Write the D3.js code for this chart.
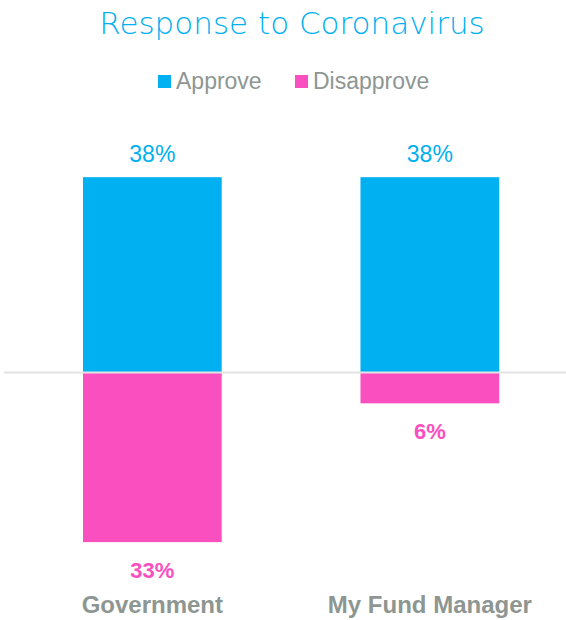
<!DOCTYPE html>
<html>
<head>
<meta charset="utf-8">
<script src="https://cdn.jsdelivr.net/npm/d3@7"></script>
<style>
  body { margin: 0; background: #fff; }
  svg { display: block; }
</style>
</head>
<body>
<div id="chart"></div>
<script>
// Data
const categories = ["Government", "My Fund Manager"];
const approve = [38, 38];
const disapprove = [33, 6];
const seriesNames = ["Approve", "Disapprove"];

const blue = "#00b0f0";
const pink = "#f94fbf";
const gray = "#8e9692";

const svgWidth = 566;
const svgHeight = 620;

const svg = d3.select("#chart")
  .append("svg")
  .attr("width", svgWidth)
  .attr("height", svgHeight);

// scales
const x = d3.scaleBand()
  .domain(categories)
  .range([13.6, 568.6])
  .paddingInner(0.5)
  .paddingOuter(0.25);

const zeroY = 372.5;
const y = d3.scaleLinear()
  .domain([-40, 40])
  .range([zeroY + 40 * 5.14, zeroY - 40 * 5.14]);

// title
svg.append("text")
  .attr("x", 292)
  .attr("y", 34)
  .attr("text-anchor", "middle")
  .attr("fill", blue)
  .style("font-family", "'DejaVu Sans', sans-serif")
  .style("font-weight", 300)
  .style("font-size", "31px")
  .text("Response to Coronavirus");

// legend
const legend = svg.append("g")
  .style("font-family", "'Liberation Sans', Arial, sans-serif")
  .style("font-size", "23px");

const legendItems = [
  { name: seriesNames[0], color: blue, x: 158 },
  { name: seriesNames[1], color: pink, x: 295 }
];

legendItems.forEach(d => {
  legend.append("rect")
    .attr("x", d.x)
    .attr("y", 75)
    .attr("width", 13)
    .attr("height", 13)
    .attr("fill", d.color);
  legend.append("text")
    .attr("x", d.x + 18)
    .attr("y", 89)
    .attr("fill", gray)
    .text(d.name);
});

// bars
const chartGroup = svg.append("g");

chartGroup.selectAll(".approve")
  .data(categories)
  .enter()
  .append("rect")
  .attr("class", "approve")
  .attr("x", d => x(d))
  .attr("width", x.bandwidth())
  .attr("y", (d, i) => y(approve[i]))
  .attr("height", (d, i) => y(0) - y(approve[i]))
  .attr("fill", blue);

chartGroup.selectAll(".disapprove")
  .data(categories)
  .enter()
  .append("rect")
  .attr("class", "disapprove")
  .attr("x", d => x(d))
  .attr("width", x.bandwidth())
  .attr("y", y(0))
  .attr("height", (d, i) => y(-disapprove[i]) - y(0))
  .attr("fill", pink);

// zero line
svg.append("line")
  .attr("x1", 4)
  .attr("x2", 566)
  .attr("y1", y(0))
  .attr("y2", y(0))
  .attr("stroke", "#e3e3e3")
  .attr("stroke-width", 2);

// value labels
chartGroup.selectAll(".approve-label")
  .data(categories)
  .enter()
  .append("text")
  .attr("x", d => x(d) + x.bandwidth() / 2)
  .attr("y", (d, i) => y(approve[i]) - 15)
  .attr("text-anchor", "middle")
  .attr("fill", blue)
  .style("font-family", "'Liberation Sans', Arial, sans-serif")
  .style("font-size", "23px")
  .text((d, i) => approve[i] + "%");

chartGroup.selectAll(".disapprove-label")
  .data(categories)
  .enter()
  .append("text")
  .attr("x", d => x(d) + x.bandwidth() / 2)
  .attr("y", (d, i) => y(-disapprove[i]) + 36)
  .attr("text-anchor", "middle")
  .attr("fill", pink)
  .style("font-family", "'Liberation Sans', Arial, sans-serif")
  .style("font-weight", "bold")
  .style("font-size", "22px")
  .text((d, i) => disapprove[i] + "%");

// category labels
chartGroup.selectAll(".cat-label")
  .data(categories)
  .enter()
  .append("text")
  .attr("x", d => x(d) + x.bandwidth() / 2)
  .attr("y", 613)
  .attr("text-anchor", "middle")
  .attr("fill", gray)
  .style("font-family", "'Liberation Sans', Arial, sans-serif")
  .style("font-weight", "bold")
  .style("font-size", "24px")
  .text(d => d);
</script>
</body>
</html>
